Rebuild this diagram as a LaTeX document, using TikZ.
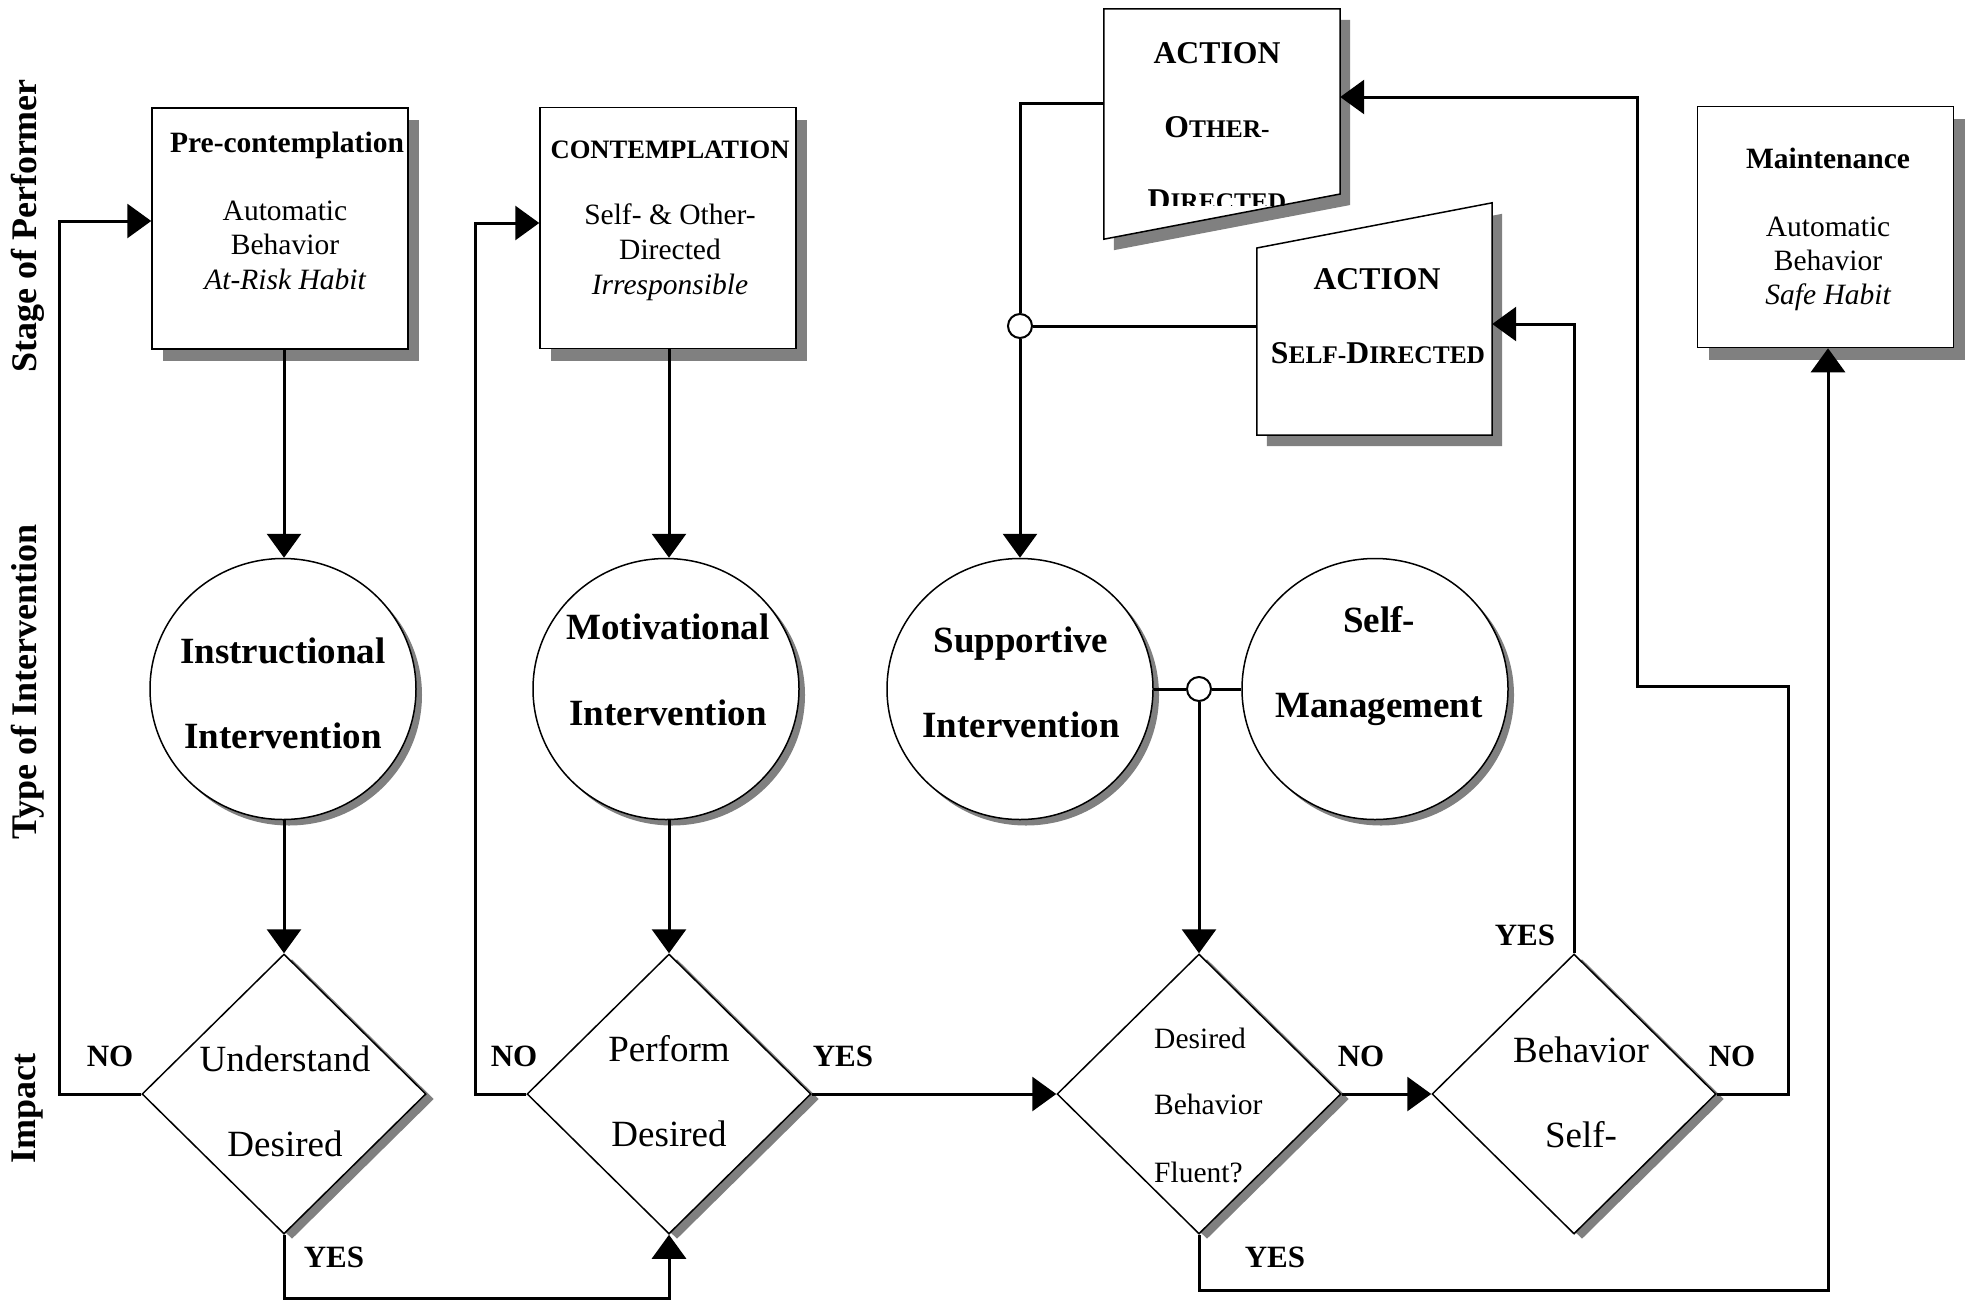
\documentclass[tikz,border=0pt]{standalone}
\usepackage{fontspec}
\setmainfont{Liberation Serif}
\usetikzlibrary{arrows.meta,shapes.geometric,shadows}
\newcommand{\fs}[1]{\fontsize{#1}{#1}\selectfont}
\begin{document}
\begin{tikzpicture}[x=1pt,y=-1pt,
  conn/.style={line width=3pt},
  arr/.style={conn,-{Triangle[length=24pt,width=34pt]}},
  shapeline/.style={draw,line width=1.5pt,fill=white},
  stagebox/.style={shapeline,minimum width=256pt,minimum height=241pt,inner sep=0pt,
    drop shadow={shadow xshift=11pt,shadow yshift=-12pt,fill=black!50,opacity=1}},
  interv/.style={shapeline,ellipse,minimum width=266pt,minimum height=261pt,inner sep=0pt,
    drop shadow={shadow xshift=6pt,shadow yshift=-6pt,fill=black!50,opacity=1}},
  decide/.style={shapeline,diamond,minimum width=284pt,minimum height=280pt,inner sep=0pt,
    drop shadow={shadow xshift=8pt,shadow yshift=-5pt,fill=black!50,opacity=1}},
  junction/.style={circle,draw,line width=2pt,fill=white,minimum size=24pt,inner sep=0pt},
  sh/.style={xshift=10pt,yshift=-11pt},
  txt/.style={inner sep=0pt,anchor=base},
  head/.style={txt,font=\bfseries\fs{29.5}},
  body/.style={txt,font=\fs{29.5}},
  bodyit/.style={txt,font=\itshape\fs{29.5}},
  big/.style={txt,font=\bfseries\fs{37}},
  dtxt/.style={txt,font=\fs{37}},
  lab/.style={txt,font=\bfseries\fs{31}},
  rowlab/.style={rotate=90,inner sep=0pt,font=\bfseries\fs{36}},
  act/.style={txt,font=\bfseries\fs{31.7}}
]
\useasboundingbox (0,0) rectangle (1967,1301);
\fill[white] (0,0) rectangle (1967,1301);

% row labels
\node[rowlab] (r1) at (28,226) {Stage of Performer};
\node[rowlab] (r2) at (28,682) {Type of Intervention};
\node[rowlab] (r3) at (28,1108) {Impact};

% stage boxes
\node[stagebox] (pre) at (280,228.5) {};
\node[head] (pre1) at (287,152) {Pre-contemplation};
\node[body] (pre2) at (285,220) {Automatic};
\node[body] (pre3) at (285,254) {Behavior};
\node[bodyit] (pre4) at (285,289) {At-Risk Habit};

\node[stagebox] (cont) at (668,228) {};
\node[txt,font=\bfseries\fs{26.6}] (cont1) at (670,158) {CONTEMPLATION};
\node[body] (cont2) at (670,224) {Self- \& Other-};
\node[body] (cont3) at (670,259) {Directed};
\node[bodyit] (cont4) at (670,294) {Irresponsible};

\node[stagebox] (maint) at (1825.5,227) {};
\node[head] (m1) at (1828,168) {Maintenance};
\node[body] (m2) at (1828,236) {Automatic};
\node[body] (m3) at (1828,270) {Behavior};
\node[bodyit] (m4) at (1828,304) {Safe Habit};

% action other-directed
\node[inner sep=0pt,minimum width=236pt,minimum height=230pt] (aod) at (1222,124) {};
\fill[black!50] ([sh]aod.north west) -- ([sh]aod.north east) -- ([sh]aod.east |- 0,194) -- ([sh]aod.south west) -- cycle;
\draw[shapeline] (aod.north west) -- (aod.north east) -- (aod.east |- 0,194) -- (aod.south west) -- cycle;
\node[act] (ao1) at (1217,63) {ACTION};
\node[act] (ao2) at (1217,137) {O{\fs{25.4}THER-}};
\begin{scope}
\clip (1104,150) rectangle (1340,205);
\node[act] (ao3) at (1217,210) {D{\fs{25.4}IRECTED}};
\end{scope}

% action self-directed
\node[inner sep=0pt,minimum width=235pt,minimum height=232pt] (asd) at (1374.5,319) {};
\fill[black!50] ([sh]asd.west |- 0,248) -- ([sh]asd.north east) -- ([sh]asd.south east) -- ([sh]asd.south west) -- cycle;
\draw[shapeline] (asd.west |- 0,248) -- (asd.north east) -- (asd.south east) -- (asd.south west) -- cycle;
\node[act] (as1) at (1377,289) {ACTION};
\node[act] (as2) at (1378,363) {S{\fs{25.4}ELF-}D{\fs{25.4}IRECTED}};

% interventions
\node[interv] (ins) at (283,689) {};
\node[big] (ins1) at (283,663) {Instructional};
\node[big] (ins2) at (283,748) {Intervention};
\node[interv] (mot) at (666,689) {};
\node[big] (mot1) at (668,639) {Motivational};
\node[big] (mot2) at (668,725) {Intervention};
\node[interv] (sup) at (1020,689) {};
\node[big] (sup1) at (1021,652) {Supportive};
\node[big] (sup2) at (1021,737) {Intervention};
\node[interv] (smg) at (1375,689) {};
\node[big] (smg1) at (1379,632) {Self-};
\node[big] (smg2) at (1379,717) {Management};

% decisions
\node[decide] (und) at (284,1094) {};
\node[dtxt] (und1) at (285,1071) {Understand};
\node[dtxt] (und2) at (285,1156) {Desired};
\node[decide] (per) at (669,1094) {};
\node[dtxt] (per1) at (669,1061) {Perform};
\node[dtxt] (per2) at (669,1146) {Desired};
\node[decide] (dbf) at (1199,1094) {};
\node[txt,anchor=base west,font=\fs{29.5}] (dbf1) at (1154,1048) {Desired};
\node[txt,anchor=base west,font=\fs{29.5}] (dbf2) at (1154,1114) {Behavior};
\node[txt,anchor=base west,font=\fs{29.5}] (dbf3) at (1154,1182) {Fluent?};
\node[decide] (bsd) at (1574,1094) {};
\node[dtxt] (bsd1) at (1581,1062) {Behavior};
\node[dtxt] (bsd2) at (1581,1147) {Self-};

% junctions
\node[junction] (jA) at (1020,326) {};
\node[junction] (jB) at (1199,689) {};

% connectors
\draw[arr] (pre.south -| und.north) -- (ins.north -| und.north);
\draw[arr] (ins.south -| und.north) -- (und.north);
\draw[arr] (und.west) -| (59,221) -- (pre.west |- 0,221);
\draw[arr] (und.south) -- (284,1298) -| (per.south);
\draw[arr] (cont.south -| per.north) -- (mot.north -| per.north);
\draw[arr] (mot.south -| per.north) -- (per.north);
\draw[arr] (per.west) -| (475,223) -- (cont.west |- 0,223);
\draw[arr] (per.east) -- (dbf.west);
\draw[arr] (dbf.east) -- (bsd.west);
\draw[arr] (dbf.south) -- (1199,1290) -| (maint.south -| 1828,0);
\draw[arr] (bsd.north) |- (asd.east |- 0,324);
\draw[arr] (bsd.east) -| (1788,686) -| (1637,97) -- (aod.east |- 0,97);
\draw[conn] (aod.west |- 0,103) -| (jA.north);
\draw[arr] (jA.south) -- (sup.north);
\draw[conn] (asd.west |- 0,326) -- (jA.east);
\draw[conn] (sup.east) -- (jB.west);
\draw[conn] (jB.east) -- (smg.west);
\draw[arr] (jB.south) -- (dbf.north);

% labels
\node[lab] (l1) at (110,1066) {NO};
\node[lab] (l2) at (334,1267) {YES};
\node[lab] (l3) at (514,1066) {NO};
\node[lab] (l4) at (843,1066) {YES};
\node[lab] (l5) at (1361,1066) {NO};
\node[lab] (l6) at (1275,1267) {YES};
\node[lab] (l7) at (1525,945) {YES};
\node[lab] (l8) at (1732,1066) {NO};
\end{tikzpicture}
\end{document}
